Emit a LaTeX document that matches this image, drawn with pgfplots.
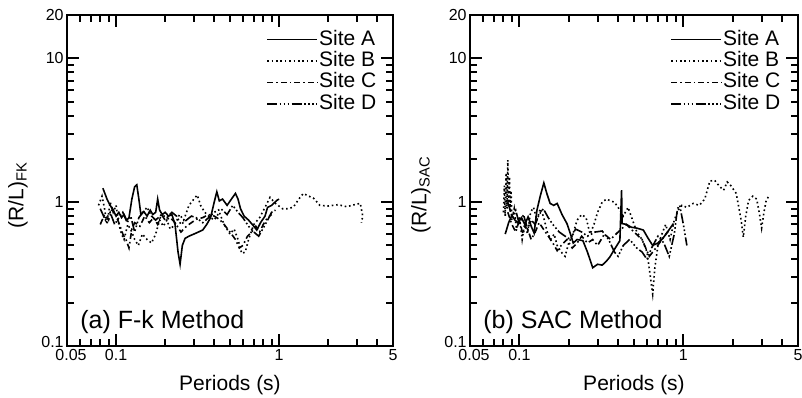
\documentclass[border=0pt]{standalone}
\usepackage{pgfplots}
\pgfplotsset{compat=1.18}
\usepackage{fontspec}
\setmainfont{Liberation Sans}
\tikzset{
  sA/.style={solid, line width=0.8pt},
  sB/.style={line width=0.8pt, dash pattern=on 0.8pt off 1.4pt},
  sC/.style={line width=0.8pt, dash pattern=on 3pt off 1.5pt on 0.8pt off 1.5pt},
  sD/.style={line width=0.8pt, dash pattern=on 5pt off 1.2pt on 0.8pt off 1.2pt on 0.8pt off 1.2pt on 0.8pt off 1.2pt},
}
\newcommand{\myticks}{%
  \pgfplotsinvokeforeach{0.1,1}{\draw[line width=1pt,black] (axis cs:##1,0.1) -- ++(0pt,6pt) (axis cs:##1,20) -- ++(0pt,-6pt);}%
  \pgfplotsinvokeforeach{0.06,0.07,0.08,0.09,0.2,0.3,0.4,0.5,0.6,0.7,0.8,0.9,2,3,4}{\draw[line width=1pt,black] (axis cs:##1,0.1) -- ++(0pt,3.5pt) (axis cs:##1,20) -- ++(0pt,-3.5pt);}%
  \pgfplotsinvokeforeach{1,10}{\draw[line width=1pt,black] (axis cs:0.05,##1) -- ++(6pt,0pt) (axis cs:5,##1) -- ++(-6pt,0pt);}%
  \pgfplotsinvokeforeach{0.2,0.3,0.4,0.5,0.6,0.7,0.8,0.9,2,3,4,5,6,7,8,9}{\draw[line width=1pt,black] (axis cs:0.05,##1) -- ++(3.5pt,0pt) (axis cs:5,##1) -- ++(-3.5pt,0pt);}%
}
\begin{document}
\begin{tikzpicture}
\useasboundingbox (-33.5pt,-25.5pt) rectangle (367.5pt,173pt);
% ---------------- (a) F-k ----------------
\begin{axis}[
    width=163pt,
    xmode=log, ymode=log, scale only axis, height=165.5pt,
    xmin=0.05, xmax=5, ymin=0.1, ymax=20,
    xtick={0.1,1,5}, xticklabels={0.1,1,5},
    extra x ticks={0.05}, extra x tick labels={0.05},
    extra x tick style={xticklabel style={xshift=2pt}},
    ytick={1,10,20}, yticklabels={1,10,20},
    extra y ticks={0.1}, extra y tick labels={0.1},
    extra y tick style={yticklabel style={yshift=2pt}},
    major tick length=6pt, minor tick length=3.5pt,
    axis line style={line width=1.2pt},
    tick style={line width=1pt, black},
    tick label style={font=\fontsize{8}{9.6}\selectfont},
    xticklabel style={inner sep=1.5pt},
    yticklabel style={inner sep=1.5pt},
    xlabel={Periods (s)},
    xlabel style={at={(rel axis cs:0.5,0)}, anchor=base, yshift=-22pt, font=\fontsize{10.5}{12}\selectfont},
    legend cell align=left,
    legend image code/.code={\draw[#1] (0pt,0pt) -- (25pt,0pt);},
    legend style={at={(rel axis cs:1,1)}, anchor=north east, xshift=-7.5pt, yshift=-6.75pt,
      draw=none, fill=none, inner sep=0pt, column sep=0pt, row sep=0pt,
      font=\fontsize{10.5}{12}\selectfont,
      nodes={inner sep=0.6pt, text height=7.5pt, text depth=2pt}},
  ]
\addplot[sA] coordinates {
(0.083,1.25)(0.088,1.05)(0.092,0.95)(0.096,0.88)(0.100,0.80)(0.104,0.85)(0.108,0.78)(0.112,0.82)
(0.116,0.75)(0.120,0.78)(0.125,1.05)(0.130,1.28)(0.134,1.32)(0.138,1.05)(0.142,0.82)(0.148,0.86)
(0.155,0.80)(0.162,0.88)(0.168,0.82)(0.175,0.85)(0.180,1.05)(0.185,0.88)(0.192,0.82)(0.200,0.85)
(0.210,0.80)(0.220,0.82)(0.230,0.70)(0.240,0.45)(0.247,0.37)(0.255,0.50)(0.265,0.56)(0.280,0.58)
(0.300,0.60)(0.320,0.62)(0.340,0.64)(0.360,0.70)(0.380,0.78)(0.400,1.00)(0.415,1.18)(0.430,1.02)
(0.450,1.05)(0.480,0.95)(0.510,1.05)(0.540,1.15)(0.560,1.05)(0.580,0.90)(0.610,0.80)(0.650,0.75)
(0.700,0.68)(0.730,0.64)(0.770,0.72)(0.820,0.80)(0.850,0.92)(0.900,0.95)(0.970,1.03)(1.000,1.05)};
\addlegendentry{Site A}
\addplot[sB] coordinates {
(0.078,0.95)(0.082,1.10)(0.085,0.90)(0.088,0.70)(0.092,1.00)(0.096,0.85)(0.100,0.95)(0.104,0.70)
(0.108,0.60)(0.112,0.55)(0.118,0.70)(0.125,0.62)(0.130,0.55)(0.137,0.50)(0.145,0.60)(0.155,0.55)
(0.165,0.52)(0.175,0.60)(0.185,0.75)(0.195,0.68)(0.205,0.75)(0.215,0.65)(0.230,0.70)(0.245,0.82)
(0.260,0.75)(0.280,0.95)(0.300,1.05)(0.315,1.12)(0.330,0.95)(0.350,0.85)(0.370,0.80)(0.400,0.75)
(0.430,0.85)(0.460,0.70)(0.500,0.60)(0.530,0.65)(0.560,0.55)(0.590,0.44)(0.620,0.45)(0.650,0.55)
(0.700,0.70)(0.760,0.78)(0.820,0.92)(0.880,1.08)(0.950,0.98)(1.050,0.90)(1.150,0.90)(1.230,0.93)
(1.320,1.05)(1.410,1.15)(1.520,1.10)(1.620,1.07)(1.780,0.95)(2.000,0.94)(2.300,0.96)(2.600,0.93)
(2.900,0.96)(3.150,0.98)(3.260,0.80)(3.200,0.72)};
\addlegendentry{Site B}
\addplot[sC] coordinates {
(0.080,0.70)(0.085,0.82)(0.090,0.75)(0.095,0.90)(0.100,0.80)(0.105,0.70)(0.110,0.60)(0.115,0.55)
(0.120,0.48)(0.125,0.65)(0.130,0.72)(0.140,0.68)(0.150,0.80)(0.160,0.72)(0.170,0.78)(0.180,0.70)
(0.190,0.82)(0.200,0.75)(0.215,0.78)(0.230,0.72)(0.250,0.62)(0.270,0.68)(0.290,0.72)(0.310,0.76)
(0.340,0.78)(0.370,0.82)(0.400,0.80)(0.430,0.76)(0.460,0.70)(0.500,0.62)(0.540,0.55)(0.570,0.48)
(0.600,0.50)(0.640,0.58)(0.680,0.62)(0.720,0.68)(0.760,0.62)(0.800,0.70)(0.850,0.78)(0.900,0.82)};
\addlegendentry{Site C}
\addplot[sD] coordinates {
(0.080,0.90)(0.086,0.75)(0.092,0.85)(0.098,0.70)(0.104,0.78)(0.110,0.85)(0.117,0.72)(0.123,0.80)
(0.130,0.62)(0.138,0.78)(0.146,0.85)(0.155,0.92)(0.165,0.80)(0.175,0.75)(0.190,0.82)(0.205,0.78)
(0.220,0.85)(0.235,0.80)(0.250,0.70)(0.270,0.75)(0.290,0.80)(0.310,0.78)(0.340,0.72)(0.370,0.78)
(0.400,0.85)(0.440,0.90)(0.480,0.82)(0.520,0.95)(0.560,0.85)(0.600,0.78)(0.650,0.68)(0.700,0.62)
(0.750,0.58)(0.800,0.66)(0.850,0.75)(0.900,0.85)(0.950,0.88)};
\addlegendentry{Site D}
\myticks
\node[anchor=base west, font=\fontsize{12.5}{15}\selectfont, inner sep=0pt] at (rel axis cs:0,0) [xshift=6.5pt, yshift=9pt] {(a) F-k Method};
\end{axis}
% ---------------- (b) SAC ----------------
\begin{axis}[
    width=164pt, xshift=201.5pt,
    xmode=log, ymode=log, scale only axis, height=165.5pt,
    xmin=0.05, xmax=5, ymin=0.1, ymax=20,
    xtick={0.1,1,5}, xticklabels={0.1,1,5},
    extra x ticks={0.05}, extra x tick labels={0.05},
    extra x tick style={xticklabel style={xshift=2pt}},
    ytick={1,10,20}, yticklabels={1,10,20},
    extra y ticks={0.1}, extra y tick labels={0.1},
    extra y tick style={yticklabel style={yshift=2pt}},
    major tick length=6pt, minor tick length=3.5pt,
    axis line style={line width=1.2pt},
    tick style={line width=1pt, black},
    tick label style={font=\fontsize{8}{9.6}\selectfont},
    xticklabel style={inner sep=1.5pt},
    yticklabel style={inner sep=1.5pt},
    xlabel={Periods (s)},
    xlabel style={at={(rel axis cs:0.5,0)}, anchor=base, yshift=-22pt, font=\fontsize{10.5}{12}\selectfont},
    legend cell align=left,
    legend image code/.code={\draw[#1] (0pt,0pt) -- (25pt,0pt);},
    legend style={at={(rel axis cs:1,1)}, anchor=north east, xshift=-8pt, yshift=-6.75pt,
      draw=none, fill=none, inner sep=0pt, column sep=0pt, row sep=0pt,
      font=\fontsize{10.5}{12}\selectfont,
      nodes={inner sep=0.6pt, text height=7.5pt, text depth=2pt}},
  ]
\addplot[sA] coordinates {
(0.082,0.60)(0.086,0.72)(0.090,0.81)(0.094,0.75)(0.098,0.72)(0.103,0.78)(0.108,0.70)(0.113,0.79)
(0.118,0.68)(0.123,0.61)(0.128,0.88)(0.134,1.10)(0.141,1.36)(0.147,1.15)(0.154,0.98)(0.162,0.95)
(0.170,0.98)(0.182,0.82)(0.195,0.71)(0.205,0.60)(0.213,0.52)(0.225,0.55)(0.244,0.54)(0.260,0.45)
(0.280,0.35)(0.300,0.37)(0.320,0.365)(0.340,0.39)(0.356,0.415)(0.380,0.47)(0.410,0.54)(0.420,1.21)
(0.423,0.71)(0.450,0.70)(0.480,0.67)(0.520,0.66)(0.570,0.64)(0.610,0.56)(0.650,0.50)(0.700,0.52)
(0.750,0.56)(0.800,0.62)(0.870,0.71)};
\addlegendentry{Site A}
\addplot[sB] coordinates {
(0.080,0.85)(0.081,1.30)(0.082,0.80)(0.083,1.60)(0.084,0.90)(0.085,1.96)(0.086,0.95)(0.087,1.50)
(0.088,0.85)(0.089,1.20)(0.090,0.75)(0.093,0.90)(0.096,0.65)(0.100,0.80)(0.104,0.55)(0.108,0.72)
(0.112,0.60)(0.117,0.85)(0.122,0.92)(0.128,0.75)(0.134,0.90)(0.140,0.80)(0.148,0.62)(0.155,0.55)
(0.163,0.60)(0.170,0.50)(0.180,0.45)(0.190,0.42)(0.200,0.52)(0.212,0.60)(0.225,0.75)(0.240,0.82)
(0.255,0.78)(0.270,0.60)(0.285,0.70)(0.300,0.85)(0.320,1.00)(0.340,1.05)(0.360,1.02)(0.380,1.00)
(0.400,0.92)(0.430,0.80)(0.460,0.92)(0.490,0.75)(0.520,0.62)(0.560,0.55)(0.600,0.45)(0.630,0.30)
(0.650,0.23)(0.670,0.35)(0.700,0.50)(0.740,0.60)(0.780,0.70)(0.830,0.55)(0.880,0.75)(0.930,0.88)
(0.980,0.95)(1.050,0.92)(1.150,0.98)(1.250,0.95)(1.350,1.05)(1.450,1.40)(1.550,1.42)(1.650,1.30)
(1.760,1.21)(1.850,1.38)(1.950,1.30)(2.100,1.15)(2.250,0.75)(2.320,0.57)(2.400,0.80)(2.500,1.03)
(2.650,1.10)(2.800,1.05)(2.900,0.85)(3.000,0.66)(3.100,0.85)(3.200,1.03)(3.350,1.12)};
\addlegendentry{Site B}
\addplot[sC] coordinates {
(0.085,0.85)(0.090,0.70)(0.095,0.62)(0.100,0.75)(0.105,0.60)(0.110,0.70)(0.118,0.55)(0.125,0.62)
(0.132,0.72)(0.140,0.65)(0.150,0.58)(0.160,0.52)(0.170,0.46)(0.180,0.50)(0.195,0.55)(0.210,0.48)
(0.225,0.52)(0.240,0.58)(0.260,0.52)(0.280,0.55)(0.300,0.50)(0.330,0.60)(0.360,0.55)(0.400,0.62)
(0.450,0.70)(0.500,0.62)(0.560,0.55)(0.620,0.42)(0.680,0.48)(0.740,0.55)(0.800,0.62)};
\addlegendentry{Site C}
\addplot[sD] coordinates {
(0.085,1.00)(0.090,0.80)(0.095,0.88)(0.100,0.70)(0.106,0.82)(0.112,0.65)(0.118,0.75)(0.125,0.70)
(0.132,0.82)(0.140,0.90)(0.150,0.78)(0.160,0.70)(0.175,0.62)(0.190,0.58)(0.205,0.55)(0.220,0.65)
(0.240,0.62)(0.260,0.58)(0.290,0.62)(0.320,0.63)(0.350,0.55)(0.380,0.45)(0.400,0.42)(0.430,0.50)
(0.470,0.55)(0.520,0.48)(0.560,0.45)(0.600,0.40)(0.640,0.48)(0.700,0.58)(0.760,0.52)(0.820,0.42)
(0.880,0.60)(0.920,0.90)(0.950,0.95)(1.000,0.70)(1.050,0.50)};
\addlegendentry{Site D}
\myticks
\node[anchor=base west, font=\fontsize{12.5}{15}\selectfont, inner sep=0pt] at (rel axis cs:0,0) [xshift=6.5pt, yshift=9pt] {(b) SAC Method};
\end{axis}
\node[rotate=90, font=\fontsize{10.5}{12}\selectfont, inner sep=0pt] at (-24.5pt,75.5pt) {(R/L)\textsubscript{FK}};
\node[rotate=90, font=\fontsize{10.5}{12}\selectfont, inner sep=0pt] at (177pt,75.5pt) {(R/L)\textsubscript{SAC}};
\end{tikzpicture}
\end{document}
